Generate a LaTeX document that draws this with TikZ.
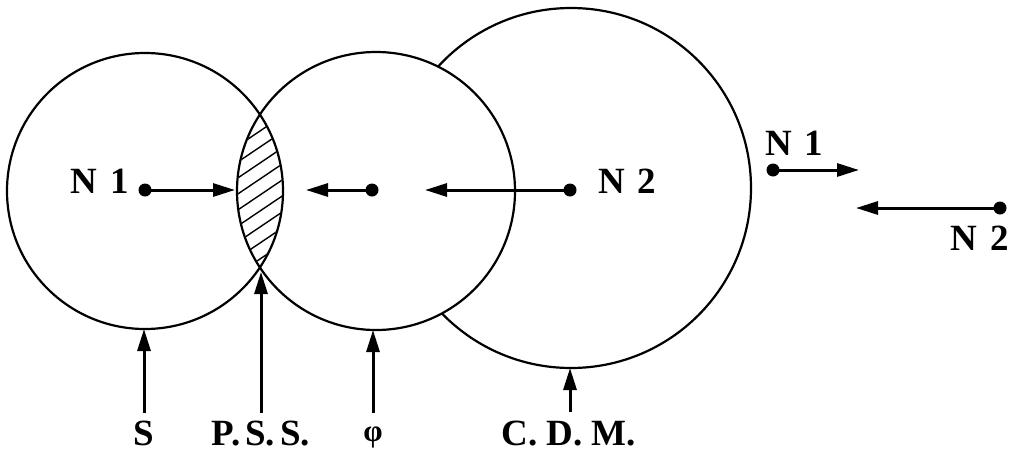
\documentclass[tikz,border=0pt]{standalone}
\usepackage{fontspec}
\setmainfont{Liberation Serif}
\usetikzlibrary{arrows.meta}
\begin{document}
\begin{tikzpicture}[x=1pt,y=-1pt,
  ring/.style={circle,draw,line width=2.2pt,inner sep=0pt,outer sep=0pt},
  dot/.style={circle,fill,inner sep=0pt,minimum size=13pt},
  vec/.style={line width=3pt,-{Triangle[length=22pt,width=13pt]}},
  hatch/.style={line width=1.4pt},
  lab/.style={font=\bfseries\fontsize{37}{42}\selectfont,inner sep=0pt},
  phil/.style={font=\bfseries\fontsize{31}{36}\selectfont,inner sep=0pt}]
\useasboundingbox (0,0) rectangle (1017,453);
% circles
\node[ring,minimum size=360pt] (C3) at (571,188) {};
\node[ring,fill=white,minimum size=278pt] (C2) at (376,191) {};
\node[ring,minimum size=276pt] (C1) at (145,191) {};
% hatched lens
\begin{scope}
  \clip (145,191) circle (137pt);
  \clip (376,191) circle (138pt);
  \foreach \k in {-12,...,12}
    \draw[hatch] (180,191+16*\k+26) -- (340,191+16*\k-82);
\end{scope}
% dots
\node[dot] (d1) at (145,190) {};
\node[dot] (d2) at (372,190) {};
\node[dot] (d3) at (570,190) {};
\node[dot] (d4) at (773,170) {};
\node[dot] (d5) at (1000,208) {};
% arrow tips
\coordinate (t1) at (235,190);
\coordinate (t2) at (306,190);
\coordinate (t3) at (425,190);
\coordinate (t4) at (859,170);
\coordinate (t5) at (856,208);
\draw[vec] (d1.center) -- (t1);
\draw[vec] (d2.center) -- (t2);
\draw[vec] (d3.center) -- (t3);
\draw[vec] (d4.center) -- (t4);
\draw[vec] (d5.center) -- (t5);
% labels
\node[lab,anchor=base east] (N1a) at (129,193) {N\hspace{13pt}1};
\node[lab,anchor=base west] (N2a) at (598,193) {N\hspace{13pt}2};
\node[lab,anchor=base west] (N1b) at (765,155) {N\hspace{13pt}1};
\node[lab,anchor=base east] (N2b) at (1009,250) {N\hspace{13pt}2};
% bottom labels
\node[lab,anchor=base] (S) at (144,445) {S};
\node[lab,anchor=base] (PSS) at (261,445) {P.\hspace{5pt}S.\hspace{5pt}S.};
\node[phil,anchor=base] (phi) at (373,441) {φ};
\node[lab,anchor=base] (CDM) at (569,445) {C.\hspace{9pt}D.\hspace{9pt}M.};
% bottom arrows
\coordinate (b1) at (144,413);
\coordinate (b2) at (261,413);
\coordinate (b3) at (373,413);
\coordinate (b4) at (570,412);
\coordinate (lensB) at (261,272);
\draw[vec] (b1) -- (b1 |- C1.south);
\draw[vec] (b2) -- (lensB);
\draw[vec] (b3) -- (b3 |- C2.south);
\draw[vec] (b4) -- (b4 |- C3.south);
\end{tikzpicture}
\end{document}
